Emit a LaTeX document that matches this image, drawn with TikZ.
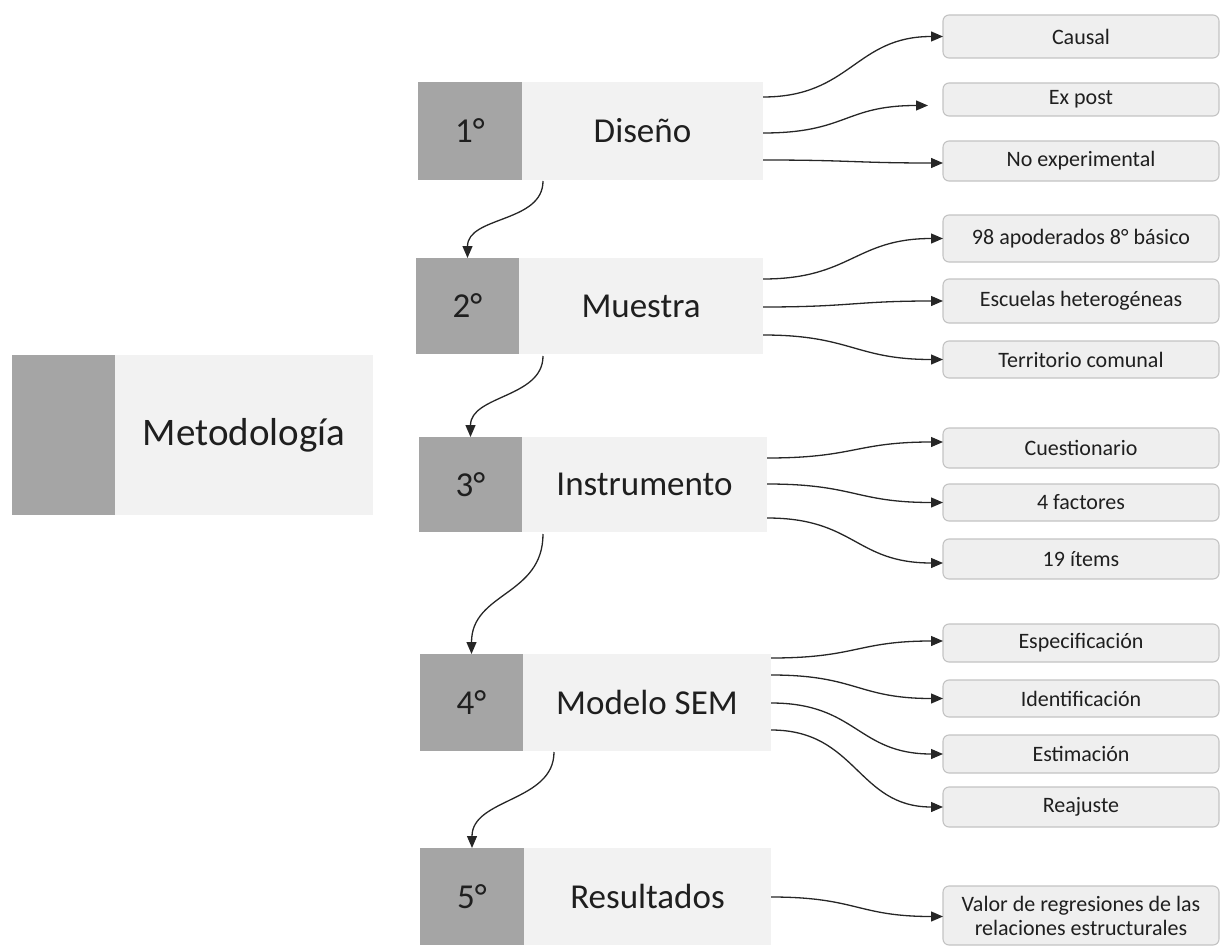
\documentclass[tikz,border=0pt]{standalone}
\usepackage{fontspec}
\setmainfont{Carlito}
\usetikzlibrary{arrows.meta,calc}
\definecolor{darkg}{HTML}{A5A5A5}
\definecolor{lightg}{HTML}{F2F2F2}
\definecolor{subfill}{HTML}{EFEFEF}
\definecolor{subline}{HTML}{C3C3C3}
\tikzset{
  darkbox/.style={fill=darkg, draw=none, inner sep=0pt, outer sep=0pt, anchor=north west, font=\fontsize{35}{40}\selectfont, text=black!88},
  lightbox/.style={fill=lightg, draw=none, inner sep=0pt, outer sep=0pt, anchor=north west, font=\fontsize{35}{40}\selectfont, text=black!88},
  subbox/.style={fill=subfill, draw=subline, line width=1.1pt, rounded corners=6pt, inner sep=0pt, outer sep=0pt, anchor=north west, minimum width=276pt, font=\fontsize{22}{26}\selectfont, text=black!88, align=center},
  arr/.style={-{Triangle[length=12pt,width=10pt]}, line width=1.3pt, black!85},
  hconn/.style={arr},
}
\begin{document}
\begin{tikzpicture}[x=1pt,y=-1pt]
\useasboundingbox (0,0) rectangle (1221,947);
% main block
\node[darkbox, minimum width=103pt, minimum height=160pt] (m0) at (12,355) {};
\node[lightbox, minimum width=258pt, minimum height=160pt, font=\fontsize{39}{46}\selectfont] (m1) at (115,355) {Metodología};
% steps
\node[darkbox, minimum width=104pt, minimum height=98pt] (d1) at (418,82) {1°};
\node[lightbox, minimum width=241pt, minimum height=98pt] (l1) at (522,82) {Diseño};
\node[darkbox, minimum width=103pt, minimum height=96pt] (d2) at (416,258) {2°};
\node[lightbox, minimum width=244pt, minimum height=96pt] (l2) at (519,258) {Muestra};
\node[darkbox, minimum width=103pt, minimum height=95pt] (d3) at (419,437) {3°};
\node[lightbox, minimum width=245pt, minimum height=95pt] (l3) at (522,437) {Instrumento};
\node[darkbox, minimum width=103pt, minimum height=97pt] (d4) at (420,654) {4°};
\node[lightbox, minimum width=248pt, minimum height=97pt] (l4) at (523,654) {Modelo SEM};
\node[darkbox, minimum width=104pt, minimum height=97pt] (d5) at (420,848) {5°};
\node[lightbox, minimum width=247pt, minimum height=97pt] (l5) at (524,848) {Resultados};
% sub boxes
\node[subbox, minimum height=43pt] (s11) at (943,15) {Causal};
\node[subbox, minimum height=33pt] (s12) at (943,83) {Ex post};
\node[subbox, minimum height=40pt] (s13) at (943,141) {No experimental};
\node[subbox, minimum height=47pt] (s21) at (943,215) {98 apoderados 8° básico};
\node[subbox, minimum height=44pt] (s22) at (943,279) {Escuelas heterogéneas};
\node[subbox, minimum height=37pt] (s23) at (943,341) {Territorio comunal};
\node[subbox, minimum height=40pt] (s31) at (943,428) {Cuestionario};
\node[subbox, minimum height=37pt] (s32) at (943,484) {4 factores};
\node[subbox, minimum height=40pt] (s33) at (943,539) {19 ítems};
\node[subbox, minimum height=38pt] (s41) at (943,624) {Especificación};
\node[subbox, minimum height=37pt] (s42) at (943,680) {Identificación};
\node[subbox, minimum height=38pt] (s43) at (943,735) {Estimación};
\node[subbox, minimum height=40pt] (s44) at (943,787) {Reajuste};
\node[subbox, minimum height=59pt, font=\fontsize{22}{24}\selectfont] (s51) at (943,886) {Valor de regresiones de las\\relaciones estructurales};
% vertical connectors
\draw[arr] ($(l1.south west)+(21,1)$) .. controls +(0,42) and +(0,-42) .. (d2.north);
\draw[arr] ($(l2.south west)+(24,2)$) .. controls +(0,42) and +(0,-42) .. (d3.north);
\draw[arr] ($(l3.south west)+(21,2)$) .. controls +(0,62) and +(0,-62) .. (d4.north);
\draw[arr] ($(l4.south west)+(31,1)$) .. controls +(0,50) and +(0,-50) .. (d5.north);
% horizontal connectors
\draw[hconn] ($(l1.north east)+(0,15)$) .. controls +(88,0) and +(-88,0) .. (s11.west);
\draw[hconn] ($(l1.north east)+(0,51)$) .. controls +(84,0) and +(-84,0) .. ($(s12.west)+(-15,6)$);
\draw[hconn] ($(l1.north east)+(0,78)$) .. controls +(88,0) and +(-88,0) .. ($(s13.west)+(0,2)$);
\draw[hconn] ($(l2.north east)+(0,21)$) .. controls +(88,0) and +(-88,0) .. (s21.west);
\draw[hconn] ($(l2.north east)+(0,49)$) .. controls +(88,0) and +(-88,0) .. (s22.west);
\draw[hconn] ($(l2.north east)+(0,77)$) .. controls +(88,0) and +(-88,0) .. (s23.west);
\draw[hconn] ($(l3.north east)+(0,21)$) .. controls +(88,0) and +(-88,0) .. ($(s31.west)+(0,-6)$);
\draw[hconn] ($(l3.north east)+(0,47)$) .. controls +(88,0) and +(-88,0) .. (s32.west);
\draw[hconn] ($(l3.north east)+(0,81)$) .. controls +(88,0) and +(-88,0) .. ($(s33.west)+(0,4)$);
\draw[hconn] ($(l4.north east)+(0,4)$) .. controls +(86,0) and +(-86,0) .. ($(s41.west)+(0,-2)$);
\draw[hconn] ($(l4.north east)+(0,21)$) .. controls +(86,0) and +(-86,0) .. (s42.west);
\draw[hconn] ($(l4.north east)+(0,49)$) .. controls +(86,0) and +(-86,0) .. (s43.west);
\draw[hconn] ($(l4.north east)+(0,76)$) .. controls +(86,0) and +(-86,0) .. (s44.west);
\draw[hconn] ($(l5.north east)+(0,49)$) .. controls +(86,0) and +(-86,0) .. ($(s51.west)+(0,1)$);
\end{tikzpicture}
\end{document}
